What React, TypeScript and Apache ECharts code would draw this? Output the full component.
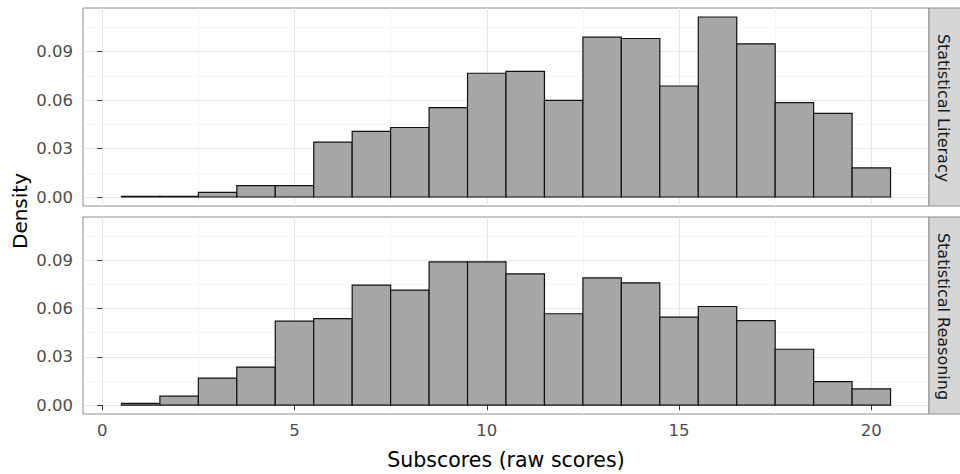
import React, { useEffect, useRef } from "react";
import * as echarts from "echarts";

// Histogram bins (centres, width 1) and densities
const binCenters = [1, 2, 3, 4, 5, 6, 7, 8, 9, 10, 11, 12, 13, 14, 15, 16, 17, 18, 19, 20];
const binWidth = 1;
const literacyDensity = [
  0.0004, 0.0004, 0.0029, 0.007, 0.007, 0.034, 0.0406, 0.043, 0.0553, 0.0766,
  0.0778, 0.0598, 0.0989, 0.0981, 0.0687, 0.1114, 0.0948, 0.0584, 0.0517, 0.018,
];
const reasoningDensity = [
  0.001, 0.0055, 0.0168, 0.0236, 0.0522, 0.0537, 0.0746, 0.0715, 0.0891, 0.0891,
  0.0816, 0.0568, 0.0791, 0.076, 0.0547, 0.0613, 0.0525, 0.0347, 0.0146, 0.0101,
];
const panelNames = ["Statistical Literacy", "Statistical Reasoning"];
const xMajorTicks = [0, 5, 10, 15, 20];
const xMinorTicks = [2.5, 7.5, 12.5, 17.5];
const yMajorTicks = [0, 0.03, 0.06, 0.09];
const yMinorTicks = [0.015, 0.045, 0.075, 0.105];
const xTitle = "Subscores (raw scores)";
const yTitle = "Density";

const FONT = "DejaVu Sans";
const X_MIN = -0.5;
const X_MAX = 21.5;
const Y_MAX_DATA = Math.max(...literacyDensity, ...reasoningDensity);
const Y_MIN = -0.05 * Y_MAX_DATA;
const Y_MAX = 1.05 * Y_MAX_DATA;

const panels = [
  { top: 8, height: 198 },
  { top: 217, height: 197 },
];
const LEFT = 83;
const WIDTH = 846;

export default function App() {
  const ref = useRef<HTMLDivElement>(null);

  useEffect(() => {
    if (!ref.current) return;
    const chart = echarts.init(ref.current, undefined, { renderer: "svg" });

    const grids = panels.map((p) => ({
      left: LEFT,
      top: p.top,
      width: WIDTH,
      height: p.height,
      show: true,
      borderColor: "#8c8c8c",
      borderWidth: 1,
      backgroundColor: "transparent",
    }));

    const xAxes: any[] = [];
    const yAxes: any[] = [];
    // major axes (index 0,1)
    panels.forEach((_, i) => {
      const isBottom = i === panels.length - 1;
      xAxes.push({
        type: "value",
        gridIndex: i,
        min: X_MIN,
        max: X_MAX,
        z: 1,
        axisLine: { show: false },
        axisTick: {
          show: isBottom,
          customValues: xMajorTicks,
          length: 5,
          lineStyle: { color: "#333333", width: 1 },
        },
        axisLabel: {
          show: isBottom,
          customValues: xMajorTicks,
          margin: 8,
          fontSize: 16.5,
          fontFamily: FONT,
          color: "#4d4d4d",
        },
        splitLine: { show: true, lineStyle: { color: "#e6e6e6", width: 1.2 } },
      });
      yAxes.push({
        type: "value",
        gridIndex: i,
        min: Y_MIN,
        max: Y_MAX,
        z: 1,
        axisLine: { show: false },
        axisTick: {
          show: true,
          customValues: yMajorTicks,
          length: 5,
          lineStyle: { color: "#333333", width: 1 },
        },
        axisLabel: {
          show: true,
          customValues: yMajorTicks,
          margin: 10,
          fontSize: 16.5,
          fontFamily: FONT,
          color: "#4d4d4d",
          formatter: (v: number) => v.toFixed(2),
        },
        splitLine: { show: true, lineStyle: { color: "#e6e6e6", width: 1.2 } },
      });
    });
    // minor grid axes (index 2,3)
    panels.forEach((_, i) => {
      xAxes.push({
        type: "value",
        gridIndex: i,
        min: X_MIN,
        max: X_MAX,
        z: 0,
        axisLine: { show: false },
        axisTick: { show: false, customValues: xMinorTicks },
        axisLabel: { show: false, customValues: xMinorTicks },
        splitLine: { show: true, lineStyle: { color: "#f3f3f3", width: 0.8 } },
      });
      yAxes.push({
        type: "value",
        gridIndex: i,
        min: Y_MIN,
        max: Y_MAX,
        z: 0,
        axisLine: { show: false },
        axisTick: { show: false, customValues: yMinorTicks },
        axisLabel: { show: false, customValues: yMinorTicks },
        splitLine: { show: true, lineStyle: { color: "#f3f3f3", width: 0.8 } },
      });
    });

    const makeSeries = (values: number[], idx: number) => ({
      type: "custom",
      xAxisIndex: idx,
      yAxisIndex: idx,
      z: 5,
      data: binCenters.map((c, k) => [c, values[k]]),
      encode: { x: 0, y: 1 },
      renderItem: (_params: any, api: any) => {
        const c = api.value(0);
        const v = api.value(1);
        const p1 = api.coord([c - binWidth / 2, v]);
        const p2 = api.coord([c + binWidth / 2, 0]);
        return {
          type: "rect",
          shape: { x: p1[0], y: p1[1], width: p2[0] - p1[0], height: p2[1] - p1[1] },
          style: { fill: "#a6a6a6", stroke: "#111111", lineWidth: 1.2 },
        };
      },
    });

    const stripGraphics: any[] = [];
    panels.forEach((p, i) => {
      stripGraphics.push({
        type: "rect",
        z: 10,
        shape: { x: LEFT + WIDTH, y: p.top, width: 40, height: p.height },
        style: { fill: "#d6d6d6", stroke: "#8c8c8c", lineWidth: 1 },
      });
      stripGraphics.push({
        type: "text",
        z: 11,
        x: LEFT + WIDTH + 14.5,
        y: p.top + p.height / 2 + 1,
        rotation: -Math.PI / 2,
        style: {
          text: panelNames[i],
          fontSize: 16,
          fontFamily: FONT,
          fill: "#1a1a1a",
          align: "center",
          verticalAlign: "middle",
        },
      });
    });
    stripGraphics.push({
      type: "text",
      z: 11,
      x: 20,
      y: (panels[0].top + panels[1].top + panels[1].height) / 2,
      rotation: Math.PI / 2,
      style: {
        text: yTitle,
        fontSize: 20,
        fontFamily: FONT,
        fill: "#000000",
        align: "center",
        verticalAlign: "middle",
      },
    });
    stripGraphics.push({
      type: "text",
      z: 11,
      x: LEFT + WIDTH / 2,
      y: 460,
      style: {
        text: xTitle,
        fontSize: 20.5,
        fontFamily: FONT,
        fill: "#000000",
        align: "center",
        verticalAlign: "middle",
      },
    });

    chart.setOption({
      animation: false,
      backgroundColor: "#ffffff",
      grid: grids,
      xAxis: xAxes,
      yAxis: yAxes,
      series: [makeSeries(literacyDensity, 0), makeSeries(reasoningDensity, 1)],
      graphic: stripGraphics,
    });

    return () => chart.dispose();
  }, []);

  return (
    <div
      ref={ref}
      style={{ position: "fixed", left: 0, top: 0, width: 960, height: 474, background: "#fff" }}
    />
  );
}
